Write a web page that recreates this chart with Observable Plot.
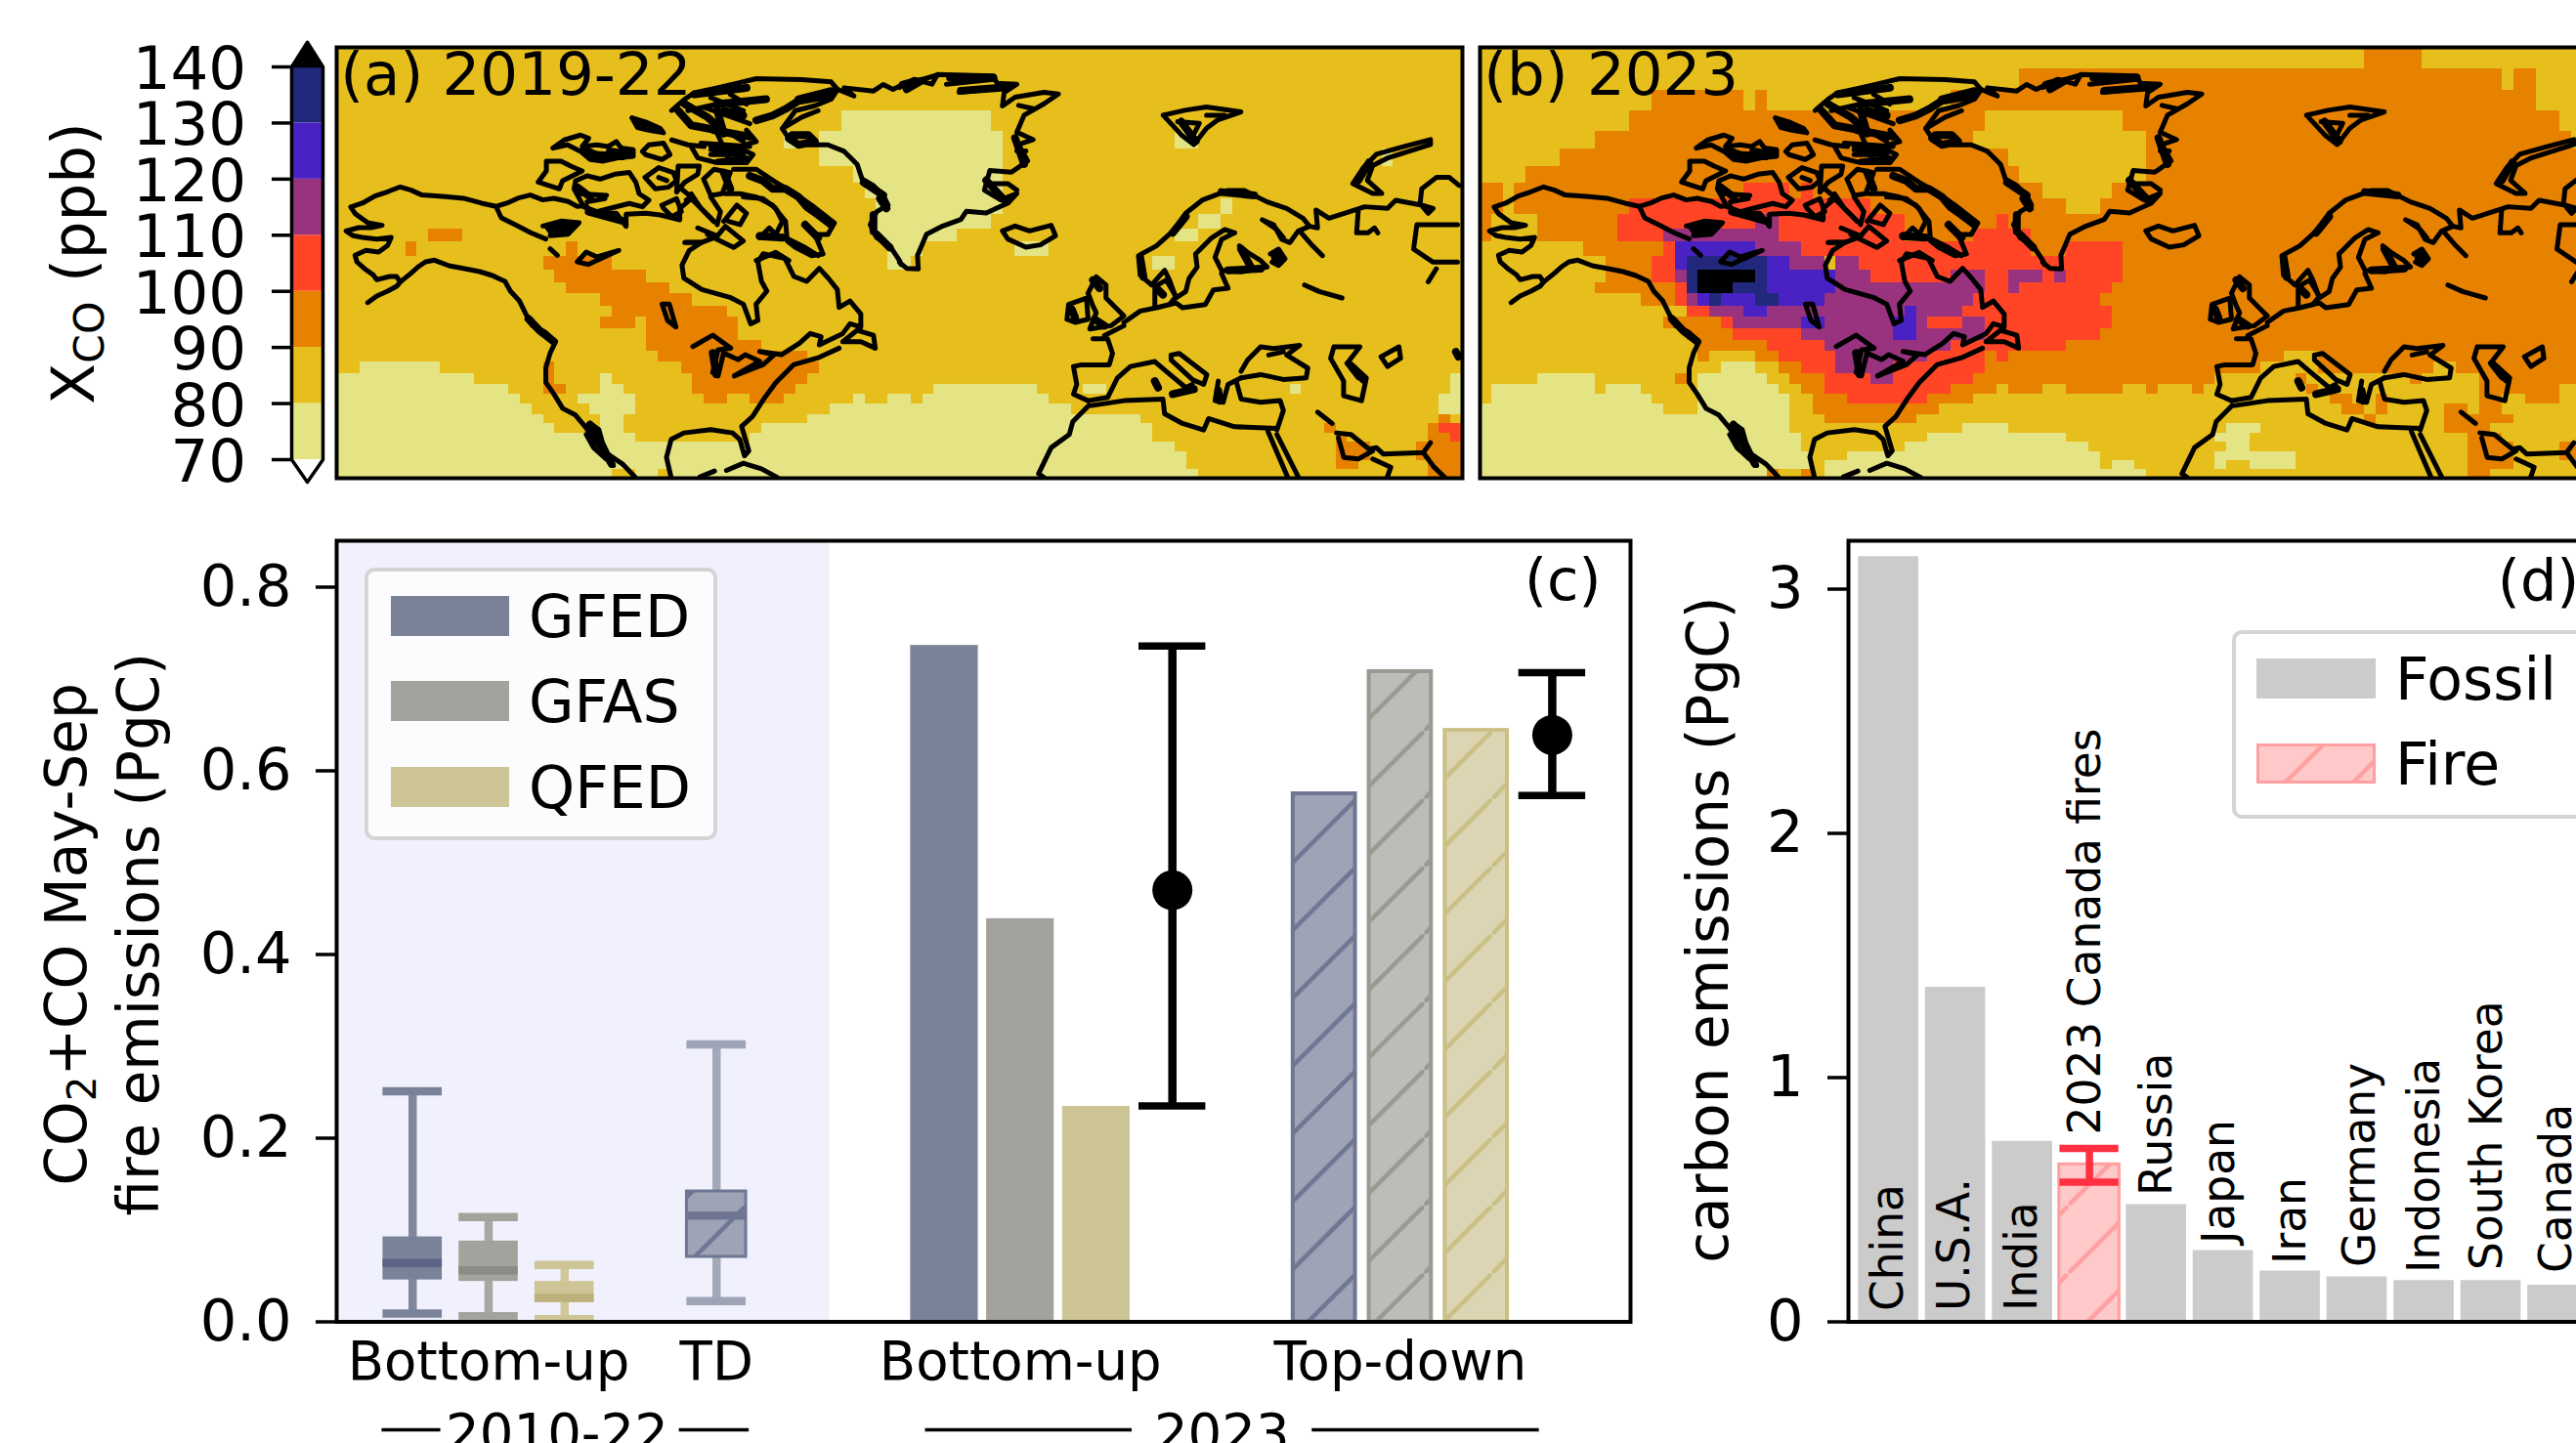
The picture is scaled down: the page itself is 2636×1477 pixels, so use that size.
<!DOCTYPE html>
<html><head><meta charset="utf-8">
<script src="https://cdn.jsdelivr.net/npm/d3@7"></script>
<script src="https://cdn.jsdelivr.net/npm/@observablehq/plot@0.6"></script>
<style>
html,body{margin:0;padding:0;background:#fff}
#page{position:relative;width:2636px;height:1477px;overflow:hidden;font-family:"DejaVu Sans";color:#000}
#page>svg{position:absolute;overflow:visible}
.legend{position:absolute;box-sizing:border-box;border:4px solid #d4d4d4;border-radius:10px;background:rgba(255,255,255,.8);font-size:60px;line-height:1}
.legend .row{position:absolute;display:flex;align-items:center}
.legend svg{display:block;flex:none}
</style></head><body><div id="page"></div>
<svg width="0" height="0" style="position:absolute"><defs id="defs"></defs></svg>
<script>
// ---------- colour classes (XCO, ppb) ----------
const cbEdges = [70,80,90,100,110,120,130,140];
const cbColors = ["#E5E485","#E6BF1C","#E78200","#FF4526","#99337F","#4A22C4","#22287C"];
const cbTicks = [70,80,90,100,110,120,130,140];
const overColor = "#000000";

// ---------- map grid: row edges and [row, firstColumn, endColumn] runs per class ----------
const rowEdges = [2,68,135,198,260,315,368,420,468,515,560,600,643,685,723,758,795,830,865,900,935,968,1003,1035,1065,1097,1128,1155,1185,1213,1243,1270,1297,1324];
const colUnit = 31.8;

const mapALight = [[21,2,9],[22,0,12],[22,23,24],[22,97,98],[23,0,15],[23,23,25],[23,52,61],[23,97,98],[24,0,16],[24,21,26],[24,45,46],[24,48,50],[24,51,62],[24,96,98],[25,0,17],[25,22,26],[25,43,64],[25,96,98],[26,0,18],[26,23,25],[26,41,70],[27,0,19],[27,23,25],[27,37,71],[28,0,26],[28,36,71],[29,0,73],[30,0,74],[31,0,74],[32,0,24],[32,26,28],[32,29,75],
[3,44,57],[4,39,40],[4,42,58],[5,42,58],[6,45,58],[7,46,58],[8,47,58],[9,47,57],[10,47,54],[11,48,51],[12,48,50],
[4,73,75],[11,59,62],[8,77,78],[9,75,77],[10,73,75],[12,71,73],[23,65,67],[23,83,84],[5,91,92]];
const mapAOrange = [[10,8,11],[11,6,7],[11,20,21],[12,18,24],[13,19,27],[14,20,29],[15,23,31],[16,24,34],[17,23,26],[17,27,35],[18,27,35],[19,27,37],[20,28,41],[21,30,42],[22,31,41],[23,31,40],[24,32,34],[24,36,39],[21,18,19],[22,18,19],[23,18,20],
[26,96,97],[27,95,96],[28,95,97],[29,94,98],[30,94,98],[31,95,98],[32,95,98],[27,86,87],[28,87,88],[29,87,90],[30,87,90],[31,87,89]];
const mapARed = [[27,96,98],[28,97,98]];

const mapBLight = [[21,21,24],[22,5,10],[22,19,25],[23,1,10],[23,11,14],[23,19,26],[24,1,15],[24,19,27],[25,0,16],[25,19,27],[26,0,27],[27,0,27],[27,42,46],[27,65,68],[28,0,28],[28,39,51],[28,64,67],[29,0,28],[29,37,53],[29,65,67],[30,0,29],[30,32,54],[30,64,71],[31,0,29],[31,30,54],[31,55,57],[31,64,65],[31,67,71],[32,0,25],[32,30,58]];
const mapBOrange = [[0,77,82],[1,47,89],[1,90,92],[2,15,23],[2,24,25],[2,41,92],[3,13,44],[3,56,94],[4,10,43],[4,58,95],[5,7,46],[5,58,100],[6,4,47],[6,58,100],[7,0,2],[7,3,23],[7,27,28],[7,29,49],[7,55,100],[8,0,2],[8,3,13],[8,34,51],[8,54,100],[9,0,1],[9,5,12],[9,37,45],[9,46,100],[10,0,1],[10,5,12],[10,37,43],[10,48,100],[11,9,16],[11,48,51],[11,56,100],[12,11,15],[12,56,100],[13,11,15],[13,56,100],[14,10,17],[14,55,100],[15,14,17],[15,54,100],[16,55,100],[17,16,21],[17,55,100],[18,18,22],[18,54,100],[19,19,25],[19,51,100],[20,19,20],[20,24,26],[20,44,45],[20,46,70],[20,73,100],[21,26,28],[21,44,68],[21,73,83],[21,85,100],[22,17,18],[22,27,30],[22,43,64],[22,71,72],[22,81,82],[22,87,100],[23,28,30],[23,41,45],[23,46,49],[23,51,56],[23,58,59],[23,62,63],[23,72,73],[23,87,94],[24,29,32],[24,39,43],[24,74,76],[24,78,79],[24,87,89],[24,91,94],[25,29,40],[25,75,77],[25,78,79],[25,84,86],[25,87,89],[26,30,38],[26,77,78],[26,84,90],[27,84,88],[28,86,89],[29,86,90],[29,94,100],[30,86,90],[30,94,100],[31,86,90],[32,25,26],[32,28,29],[32,86,88]];
const mapBRed = [[7,23,27],[7,28,29],[8,13,34],[9,12,24],[9,26,37],[9,45,46],[10,12,16],[10,26,37],[10,43,48],[11,16,17],[11,28,48],[11,51,56],[12,15,17],[12,33,56],[13,15,17],[13,34,41],[13,44,46],[13,49,50],[13,51,56],[14,17,18],[14,44,46],[14,47,55],[15,17,18],[15,43,54],[16,18,20],[16,42,55],[17,21,22],[17,39,42],[17,44,55],[18,22,28],[18,44,54],[19,25,30],[19,41,51],[20,26,31],[20,39,44],[20,45,46],[21,28,31],[21,36,44],[22,30,34],[22,36,43],[23,30,41],[24,32,39]];
const mapBPurple = [[9,24,26],[10,16,26],[11,24,28],[12,27,30],[12,31,33],[13,17,18],[13,31,34],[13,41,44],[13,46,49],[13,50,51],[14,31,44],[14,46,47],[15,18,19],[15,30,43],[16,20,23],[16,25,37],[16,38,42],[17,22,28],[17,30,36],[17,38,39],[17,42,44],[18,28,36],[18,38,44],[19,30,41],[20,31,39],[21,31,36],[22,34,36]];
const mapBBlue = [[11,17,24],[12,17,18],[12,25,27],[13,25,31],[14,25,31],[15,19,20],[15,21,24],[15,26,30],[16,23,25],[16,37,38],[17,28,30],[17,36,38],[18,36,38]];
const mapBNavy = [[12,18,25],[13,18,19],[13,24,25],[14,18,19],[14,22,25],[15,20,21],[15,24,26]];
const mapBBlack = [[13,19,24],[14,19,22]];

// ---------- coastlines, traced in map units ----------
const coastWest = [
 [[85,785],[110,765],[140,750],[165,735],[175,722],[205,695],[225,675],[245,660],[270,655],[310,672],[350,680],[395,690],[430,702],[465,720],[480,750],[505,780],[525,825],[540,855],[575,875],[605,905],[590,940],[578,985],[578,1030],[600,1065],[625,1110],[660,1130],[690,1170],[715,1215],[750,1250],[790,1280],[825,1320]],
 [[700,1155],[725,1175],[735,1215],[765,1285]],[[690,1190],[710,1230],[745,1265]],
 [[925,1322],[912,1260],[925,1205],[960,1185],[1035,1175],[1095,1185],[1115,1205],[1128,1255],[1140,1240],[1120,1165],[1150,1135],[1185,1075],[1215,1030],[1265,975],[1330,955],[1390,925]],
 [[1100,1010],[1180,975],[1210,945],[1170,935],[1230,945],[1280,910],[1310,880],[1340,890],[1335,915],[1400,880],[1420,850],[1450,860],[1450,820],[1420,780],[1390,800],[1385,745],[1360,710],[1335,680],[1300,720],[1265,705],[1240,650],[1180,635],[1165,660],[1175,720],[1190,750],[1160,790],[1165,840],[1145,850],[1125,790],[1090,770],[1010,745],[960,710],[955,670],[975,625],[1010,600],[965,600]],
 [[690,488],[665,490],[640,475],[600,465],[570,470],[535,455],[500,465],[470,480],[440,490],[400,480],[350,465],[300,460],[235,455],[205,440],[175,430],[140,445],[105,458],[70,480],[38,492],[50,512],[85,540],[125,548],[95,555],[60,555],[25,565],[45,580],[70,585],[110,590],[150,585],[140,610],[115,630],[80,625],[50,640],[55,660],[75,680],[100,700],[110,715],[145,705],[165,705],[175,722]],
 [[440,490],[455,525],[500,550],[535,570],[578,590]],
 [[590,620],[610,640]],[[665,660],[690,630],[720,645],[780,625],[730,650],[695,668],[665,660]],
 [[900,790],[920,790],[938,860],[915,840],[900,790]],
 [[985,920],[1040,885],[1090,925],[1055,930],[1040,1000],[1055,1010],[1070,940],[1110,960],[1130,945],[1170,965],[1100,1010]],
 [[1400,905],[1440,870],[1485,885],[1490,925],[1450,905],[1400,905]],
 [[1005,1320],[1045,1302]],[[1078,1300],[1125,1278],[1175,1295],[1220,1322]]
];
const coastEast = [
 [[0,125],[40,100],[90,115],[105,85],[260,90],[270,112],[325,115],[290,140],[285,182],[320,155],[400,140],[440,145],[400,175],[345,210],[325,262],[370,285],[330,300],[355,350],[310,385],[250,380],[235,440],[280,470],[325,450],[300,480],[240,510],[185,505],[170,530],[120,550],[75,575],[50,640],[52,682],[20,680],[0,662]],
 [[130,115],[260,100]],[[165,140],[300,125]],[[330,180],[370,190]],[[325,320],[350,320]],[[240,420],[300,420],[325,440]],
 [[285,565],[320,550],[360,565],[420,548],[432,580],[390,608],[350,615],[300,590],[285,565]],
 [[730,210],[790,195],[850,185],[945,200],[880,225],[850,250],[815,300],[780,270],[730,210]],[[770,230],[830,235],[810,280]],[[850,210],[900,210]],
 [[1470,285],[1400,305],[1320,330],[1285,370],[1255,420],[1310,450],[1335,450],[1295,410],[1310,365],[1350,342],[1470,300],[1470,285]],
 [[525,1100],[480,1150],[470,1190],[420,1230],[385,1310],[400,1322]],
 [[1020,1180],[1075,1322]],[[1045,1190],[1105,1322]],
 [[1210,1185],[1250,1190],[1300,1235],[1320,1230],[1340,1250],[1450,1245],[1470,1215]],[[1215,1200],[1230,1260],[1270,1265],[1310,1240]],[[1310,1265],[1360,1290],[1350,1322]],[[1450,1245],[1480,1290],[1510,1322]]
];
// stretches where the dense coastline reads as a heavy black band
const heavyWest = [[[530,835],[560,870],[600,905]],[[700,1160],[760,1280]],[[1040,940],[1050,1005]]];
const heavyEast = [[[320,280],[345,360]],[[240,410],[290,470]],[[20,130],[60,105]],[[140,95],[260,95]],[[170,135],[290,125]],[[780,230],[820,290]],[[1300,355],[1270,410]]];
const lakesWest = [[[570,550],[620,535],[670,540],[640,575],[590,580]]];
// Arctic and Europe traced at a finer grain; map x = origin + 0.901 * x, map y = origin + y
const arcticOrigin = [584,66], europeOrigin = [1908,396], traceScale = 0.901;
const arcticLines = [
 [[258,152],[300,165],[345,185],[355,198],[310,190],[275,182],[258,152]],[[280,170],[330,180]],
 [[15,245],[50,220],[100,205],[125,215],[105,240],[150,235],[185,240],[210,225],[225,245],[262,250],[262,270],[215,275],[170,285],[130,280],[100,255],[60,235],[15,245]],
 [[-5,285],[40,285],[70,300],[105,315],[75,330],[45,345],[35,370],[-30,349],[-5,315],[-5,285]],
 [[85,345],[120,330],[160,340],[205,325],[250,320],[270,350],[280,385],[310,405],[290,425],[250,415],[190,430],[150,440],[110,425],[80,370],[85,345]],[[95,385],[180,390]],[[120,410],[175,400]],
 [[118,422],[130,445],[210,445],[240,485],[240,448],[300,445],[345,450],[405,465],[405,430],[440,400],[470,430],[510,470]],
 [[298,335],[340,305],[385,320],[395,345],[370,365],[330,370],[298,335]],[[340,335],[365,345]],
 [[400,300],[465,300],[460,325],[420,350],[395,380],[400,300]],
 [[478,340],[510,310],[560,320],[535,385],[500,390],[478,340]],
 [[570,310],[640,310],[700,350],[760,385],[810,420],[880,475],[860,510],[820,510],[845,570],[810,575],[760,550],[735,530],[730,470],[690,420],[640,395],[590,385],[545,385]],
 [[290,255],[310,235],[355,230],[375,265],[350,280],[300,265],[290,255]],[[380,220],[430,235],[480,240]],
 [[440,240],[460,275],[520,290],[610,290],[630,265],[590,245],[500,240]],[[500,265],[600,265]],[[520,285],[610,275]],
 [[380,130],[420,95],[450,75],[520,60],[585,45],[640,32],[780,35],[870,42],[890,65],[870,95],[820,115],[760,130],[720,185],[740,215]],
 [[590,240],[640,225],[610,190]],
 [[890,65],[940,85],[910,60],[1000,70],[1030,50],[1060,65],[1090,50],[1130,40],[1200,20]],
 [[720,185],[780,150],[830,130]],
 [[800,235],[860,235],[910,255],[950,295],[965,340],[1000,360],[1030,390],[1045,420],[1010,440],[990,480],[1010,520],[1050,545],[1080,590],[1085,602]],
 [[460,490],[520,515],[545,485],[600,530],[570,550],[530,530],[490,510]],[[420,535],[470,535],[510,520]],
 [[540,470],[580,420],[610,445],[590,480],[555,470]],[[500,395],[530,440],[520,480]],[[440,385],[470,430],[510,470]],
 [[350,420],[395,400],[410,440],[380,455],[355,430],[350,420]],[[410,370],[440,395],[425,405]],
 [[600,395],[660,400],[700,430],[720,470],[700,510],[680,490],[650,520]],[[650,510],[720,515],[790,550],[830,575]],
 [[640,590],[700,565],[740,590]],
 [[500,90],[600,130]],[[480,120],[620,170]],[[510,170],[600,225]],[[470,230],[620,240]],[[500,250],[610,255]],[[520,200],[560,290]],[[430,130],[520,110]],[[560,80],[610,110]]
];
const arcticHeavy = [
 [[110,250],[170,275]],[[190,255],[250,265]],[[540,320],[560,370]],[[620,330],[660,345],[690,370],[730,370],[770,395],[795,425],[830,450],[870,480]],[[790,480],[830,520]],[[650,515],[720,520]],
 [[420,110],[490,150],[530,185]],[[450,80],[610,60]],[[520,110],[670,95]],[[400,130],[440,175],[520,190]],[[510,190],[620,210]],[[540,130],[600,145]],[[640,160],[690,145],[730,125],[770,100],[860,85]],[[770,95],[870,70]],[[520,130],[540,200]],
 [[740,215],[770,235],[820,225],[800,205],[750,205]],[[970,350],[1030,390]],[[1020,400],[1040,430]],[[1000,450],[1000,500]],[[1010,510],[1050,550]],[[1090,50],[1130,40]],
 [[90,365],[130,395]],[[125,440],[235,470]],[[130,265],[230,270]]
];
const europeLines = [
 [[385,335],[350,305],[345,245],[400,215],[450,170],[490,115],[540,75],[620,45],[670,45],[740,80],[800,100],[850,130],[870,155],[835,170],[810,205],[785,195],[760,150],[725,135],[770,165],[790,190]],
 [[845,175],[875,210],[910,245]],
 [[870,155],[895,160],[890,105],[930,130],[1010,105],[1040,95],[1110,100],[1135,75],[1215,90],[1250,100],[1235,115],[1210,85],[1215,40],[1260,5],[1300,5],[1330,30]],
 [[1020,105],[1015,175],[1050,175],[1070,160],[1080,175]],
 [[640,175],[610,165],[570,190],[520,240],[525,280],[500,315],[490,355],[460,375],[440,320],[425,290],[385,335]],
 [[640,175],[600,195],[580,250],[600,290],[660,295],[740,280],[720,260],[680,235],[655,215]],
 [[395,400],[395,340],[430,320],[460,370],[440,395]],
 [[300,450],[350,415],[400,405],[460,390],[480,405],[550,395],[575,350],[620,345],[600,300]],
 [[125,440],[130,395],[185,375],[190,440],[150,450],[125,440]],
 [[190,360],[215,310],[245,335],[245,375],[280,410],[300,430],[260,460],[195,470],[215,420],[205,400],[190,360]],
 [[205,500],[250,500],[265,545],[255,580],[170,580],[145,585],[155,640],[145,670],[190,690]],[[240,490],[300,460]],
 [[190,690],[250,680],[280,620],[320,585],[395,570],[430,600],[490,650],[510,640]],
 [[445,550],[470,545],[555,610],[545,640],[510,625],[445,565],[445,550]],
 [[590,630],[580,690],[605,695],[620,640],[660,620]],
 [[660,620],[720,610],[790,625],[860,620],[865,590],[800,550],[840,520],[760,530],[720,525],[680,565],[660,600]],[[745,550],[790,540]],
 [[645,630],[660,685],[720,695],[780,690],[790,720],[770,780]],
 [[200,705],[300,690],[420,685],[425,730],[480,760],[545,780],[560,745],[640,770],[770,775]],
 [[945,525],[1025,525],[990,570],[1045,620],[1030,690],[975,675],[975,630],[935,560],[945,525]],[[985,575],[1020,620]],
 [[1090,555],[1145,525],[1150,560],[1110,585],[1090,555]],
 [[855,335],[900,355],[970,375]],
 [[1325,150],[1200,150],[1190,225],[1250,265],[1325,265]],[[1260,285],[1235,325]],[[895,725],[940,760]]
];
const europeHeavy = [
 [[350,250],[360,310]],[[450,175],[490,125]],[[600,50],[700,60]],[[660,225],[690,280]],[[620,290],[720,285]],[[405,350],[420,365]],[[205,320],[225,345]],[[140,410],[150,435]],[[210,440],[240,460]],[[395,630],[405,650]],[[450,670],[515,655]],[[590,660],[595,690]],[[1320,540],[1328,555]],[[1005,590],[1035,625]]
];
const europeLakes = [[[750,240],[775,225],[795,255],[775,275],[755,265]]];
const eastOffset = 1557;
const mapWidthUnits = 3116.4;

// ---------- panel (c) ----------
const sources = ["GFED","GFAS","QFED"];
const srcFill = ["#7A8299","#A3A39E","#CEC597"];
const srcMedian = ["#5A6484","#8C8C87","#BCB17A"];
const hatchFill = ["#9EA4B5","#BCBCB9","#DCD5B3"];
const hatchLine = ["#6E7693","#999994","#CABF85"];

const boxX    = [1,2,3,5];
const boxHigh = [0.251,0.114,0.062,0.302];
const boxLow  = [0.009,0.006,0.003,0.0225];
const boxQ3   = [0.0925,0.088,0.044,0.142];
const boxQ1   = [0.0456,0.044,0.021,0.0707];
const boxMed  = [0.064,0.056,0.026,0.1157];
const bottomUpX = [8,9,10];
const bottomUp23 = [0.7365,0.439,0.2346];
const topDownX = [13,14,15];
const topDown23 = [0.575,0.708,0.644];
const errX = [11,16], errHigh = [0.736,0.707], errLow = [0.235,0.573], errMid = [0.47,0.639];
const cTicks = [0,0.2,0.4,0.6,0.8];
const cGroupTicks = [2,5,9,14];
const cGroupLabels = ["Bottom-up","TD","Bottom-up","Top-down"];
const periodLabels = ["2010-22","2023"], periodX = [2.9,11.65];
const periodLineStart = [0.597,4.51,7.75,12.84], periodLineEnd = [1.371,5.43,10.47,15.83];

// ---------- panel (d) ----------
const countries = ["China","U.S.A.","India","2023 Canada fires","Russia","Japan","Iran","Germany","Indonesia","South Korea","Canada"];
const emissions = [3.133,1.37,0.739,0.645,0.48,0.292,0.208,0.184,0.169,0.169,0.15];
const labelBase = [0.044,0.044,0.044,0.766,0.516,0.32,0.236,0.224,0.2,0.212,0.2];
const labelShift = [0,-0.01,0,-0.06,0.01,-0.05,0.01,0.05,0.01,-0.05,-0.02];
const fireIndex = 3, fireLow = 0.572, fireHigh = 0.71;
const dTicks = [0,1,2,3];

// ---------- helpers ----------
const FONT = "DejaVu Sans", FS = 59, FS_MAP = 61, FS_X = 54.5;
const page = document.getElementById("page");
const place = (svg,left,top)=>{svg.style.left=left+"px";svg.style.top=top+"px";page.appendChild(svg);return svg;};
const ns = "http://www.w3.org/2000/svg";
const defs = document.getElementById("defs");
function hatch(id,bg,line){
  const s=69.4, w=4.4;
  defs.insertAdjacentHTML("beforeend",`<pattern id="${id}" patternUnits="userSpaceOnUse" width="${s}" height="${s}">
  <rect width="${s}" height="${s}" fill="${bg}"/>
  <path d="M-2,${s+2}L${s+2},-2" stroke="${line}" stroke-width="${w}" fill="none"/></pattern>`);
}
sources.forEach((s,i)=>hatch("hatch"+s,hatchFill[i],hatchLine[i]));
hatch("hatchFire","#FFC9C9","#FF9FA0");
function subscript(svg,whole,parts,fs){
  d3.select(svg).selectAll("text").filter(function(){return this.textContent===whole;}).each(function(){
    this.textContent="";
    let pending=0;
    parts.forEach(([t,sub])=>{
      const ts=document.createElementNS(ns,"tspan");
      ts.textContent=t;
      if(sub){ts.setAttribute("font-size",fs*0.7);ts.setAttribute("dy",fs*0.17);pending=-fs*0.17;}
      else if(pending){ts.setAttribute("dy",pending);pending=0;}
      this.appendChild(ts);
    });
  });
}

// ---------- colour bar ----------
const cbBands = cbColors.map((c,i)=>({a:cbEdges[i],b:cbEdges[i+1],c}));
const cbOutlineX=[0,0,0.5,1,1,0.5,0], cbOutlineY=[70,140,144.4,140,70,66,70];
const cbOverX=[0,0.5,1,0], cbOverY=[140,144.4,140,140];
const cbar = Plot.plot({
  width:344,height:520,marginLeft:298,marginRight:14,marginTop:68,marginBottom:50,
  style:{fontFamily:FONT,background:"transparent",overflow:"visible"},
  x:{domain:[0,1],axis:null},
  y:{domain:[70,140],axis:null},
  marks:[
    Plot.rect(cbBands,{x1:0,x2:1,y1:"a",y2:"b",fill:"c"}),
    Plot.line(cbOverX.map((x,i)=>[x,cbOverY[i]]),{x:"0",y:"1",fill:overColor,stroke:overColor}),
    Plot.line(cbOutlineX.map((x,i)=>[x,cbOutlineY[i]]),{x:"0",y:"1",stroke:"#000",strokeWidth:3.5}),
    Plot.axisY({ticks:cbTicks,tickSize:20,tickFormat:()=>"",stroke:"#000",strokeWidth:3.5,label:null,anchor:"left"}),
    Plot.text(cbTicks,{x:-1.45,y:d=>d,text:d=>String(d),dy:3,textAnchor:"end",fontSize:FS_MAP}),
    Plot.text(["Xco (ppb)"],{x:-6.94,y:105,text:d=>d,rotate:-90,fontSize:FS_MAP})
  ]
});
subscript(cbar,"Xco (ppb)",[["X",0],["CO",1],[" (ppb)",0]],FS_MAP);
place(cbar,0,0);

// ---------- maps ----------
const classTable=(runs)=>runs.flatMap(([list,k])=>list.map(([r,c1,c2])=>({r,c1,c2,k})));
const rows=(lines,tag,fx,fy)=>lines.flatMap((pts,i)=>pts.map(([x,y])=>({x:fx(x),y:fy(y),id:tag+i})));
const plain=v=>v, east=v=>v+eastOffset;
const arcX=v=>arcticOrigin[0]+traceScale*v, arcY=v=>arcticOrigin[1]+v;
const eurX=v=>europeOrigin[0]+traceScale*v, eurY=v=>europeOrigin[1]+v;
const coastTable=[...rows(coastWest,"w",plain,plain),...rows(coastEast,"e",east,plain),...rows(arcticLines,"a",arcX,arcY),...rows(europeLines,"u",eurX,eurY)];
const heavyTable=[...rows(heavyWest,"w",plain,plain),...rows(heavyEast,"e",east,plain),...rows(arcticHeavy,"a",arcX,arcY),...rows(europeHeavy,"u",eurX,eurY)];
const lakeTable=[...rows(lakesWest,"w",plain,plain),...rows(europeLakes,"u",eurX,eurY)];
function map(runs,title,left){
  const cells=classTable(runs);
  const p=Plot.plot({
    width:1152,height:441,margin:0,
    style:{fontFamily:FONT,background:"transparent",overflow:"visible"},
    x:{domain:[-1,mapWidthUnits-1],axis:null},
    y:{domain:[2,1324],axis:null,reverse:true},
    color:{type:"ordinal",domain:[1,2,3,4,5,6,7,8],range:[...cbColors,overColor]},
    marks:[
      Plot.rect(cells,{x1:d=>d.c1*colUnit-1,x2:d=>d.c2*colUnit-1,y1:d=>rowEdges[d.r],y2:d=>rowEdges[d.r+1],fill:"k",clip:true,shapeRendering:"crispEdges"}),
      Plot.line(coastTable,{x:"x",y:"y",z:"id",stroke:"#000",strokeWidth:5,clip:true,curve:"linear",strokeLinejoin:"round",strokeLinecap:"round"}),
      Plot.line(heavyTable,{x:"x",y:"y",z:"id",stroke:"#000",strokeWidth:8,clip:true,strokeLinecap:"round"}),
      Plot.line(lakeTable,{x:"x",y:"y",z:"id",stroke:"#000",fill:"#000",strokeWidth:5,clip:true}),
      Plot.text([title],{x:9,y:90,text:d=>d,textAnchor:"start",fontSize:FS_MAP}),
      Plot.frame({stroke:"#000",strokeWidth:4})
    ]
  });
  return place(p,left,48);
}
const allRows=rowEdges.slice(0,-1).map((_,r)=>[r,0,100]);
map([[allRows,2],[mapALight,1],[mapAOrange,3],[mapARed,4]],"(a) 2019-22",344);
map([[allRows,2],[mapBLight,1],[mapBOrange,3],[mapBRed,4],[mapBPurple,5],[mapBBlue,6],[mapBNavy,7],[mapBBlack,8]],"(b) 2023",1514);

// ---------- panel (c) ----------
const boxes=boxX.map((x,i)=>({x,hi:boxHigh[i],lo:boxLow[i],q3:boxQ3[i],q1:boxQ1[i],m:boxMed[i],s:i<3?i:0,td:i===3}));
const barsBU=bottomUpX.map((x,i)=>({x,v:bottomUp23[i],s:i}));
const barsTD=topDownX.map((x,i)=>({x,v:topDown23[i],s:i}));
const errs=errX.map((x,i)=>({x,hi:errHigh[i],lo:errLow[i],m:errMid[i]}));
const capH=0.39, boxH=0.39;
const pc=Plot.plot({
  width:1680,height:937,marginLeft:344,marginRight:12,marginTop:13,marginBottom:124.5,
  style:{fontFamily:FONT,background:"transparent",overflow:"visible"},
  x:{domain:[0,17.03],axis:null},
  y:{domain:[0,0.8505],axis:null},
  marks:[
    Plot.rect([0],{x1:0,x2:6.49,y1:0,y2:0.8505,fill:"#F1F1FD"}),
    Plot.ruleX(boxes,{x:"x",y1:"lo",y2:"hi",stroke:d=>d.td?hatchFill[0]:srcFill[d.s],strokeWidth:8.5,strokeOpacity:0.95}),
    Plot.ruleY(boxes,{y:"hi",x1:d=>d.x-capH,x2:d=>d.x+capH,stroke:d=>d.td?hatchFill[0]:srcFill[d.s],strokeWidth:8.5}),
    Plot.ruleY(boxes,{y:"lo",x1:d=>d.x-capH,x2:d=>d.x+capH,stroke:d=>d.td?hatchFill[0]:srcFill[d.s],strokeWidth:8.5}),
    Plot.rect(boxes,{x1:d=>d.x-boxH,x2:d=>d.x+boxH,y1:"q1",y2:"q3",fill:d=>d.td?"url(#hatchGFED)":srcFill[d.s],stroke:d=>d.td?hatchLine[0]:"none",strokeWidth:3}),
    Plot.ruleY(boxes,{y:"m",x1:d=>d.x-boxH,x2:d=>d.x+boxH,stroke:d=>d.td?hatchLine[0]:srcMedian[d.s],strokeWidth:8.5}),
    Plot.rect(barsBU,{x1:d=>d.x-0.445,x2:d=>d.x+0.445,y1:0,y2:"v",fill:d=>srcFill[d.s]}),
    Plot.rect(barsTD,{x1:d=>d.x-0.41,x2:d=>d.x+0.41,y1:0,y2:"v",fill:d=>"url(#hatch"+sources[d.s]+")",stroke:d=>hatchLine[d.s],strokeWidth:4}),
    Plot.ruleX(errs,{x:"x",y1:"lo",y2:"hi",stroke:"#000",strokeWidth:8.5}),
    Plot.ruleY(errs,{y:"hi",x1:d=>d.x-0.44,x2:d=>d.x+0.44,stroke:"#000",strokeWidth:7.5}),
    Plot.ruleY(errs,{y:"lo",x1:d=>d.x-0.44,x2:d=>d.x+0.44,stroke:"#000",strokeWidth:7.5}),
    Plot.dot(errs,{x:"x",y:"m",r:20.5,fill:"#000"}),
    Plot.frame({stroke:"#000",strokeWidth:4}),
    Plot.axisY({ticks:cTicks,tickSize:21,tickPadding:25,fontSize:FS,stroke:"#000",strokeWidth:3.5,label:null,tickFormat:d3.format(".1f")}),
    Plot.axisX({ticks:cGroupTicks,tickFormat:d=>cGroupLabels[cGroupTicks.indexOf(d)],tickSize:0,tickPadding:20,fontSize:FS_X,label:null}),
    Plot.text(["(c)"],{x:16.14,y:0.806,text:d=>d,fontSize:FS}),
    Plot.text(["CO2+CO May-Sep"],{x:-3.54,y:0.422,text:d=>d,rotate:-90,fontSize:58}),
    Plot.text(["fire emissions (PgC)"],{x:-2.58,y:0.422,text:d=>d,rotate:-90,fontSize:58}),
    Plot.ruleY(periodLineStart.map((a,i)=>({a,b:periodLineEnd[i]})),{y:-0.1176,x1:"a",x2:"b",stroke:"#000",strokeWidth:3.5}),
    Plot.text(periodLabels.map((t,i)=>({t,x:periodX[i]})),{x:"x",y:-0.1176,text:"t",dy:5,fontSize:FS_X})
  ]
});
subscript(pc,"CO2+CO May-Sep",[["CO",0],["2",1],["+CO May-Sep",0]],58);
place(pc,0,540);

// ---------- panel (d) ----------
const dBars=countries.map((n,i)=>({i,n,v:emissions[i],base:labelBase[i],sh:labelShift[i],fire:i===fireIndex}));
const pd=Plot.plot({
  width:1054,height:937,marginLeft:191,marginRight:0,marginTop:13,marginBottom:124.5,
  style:{fontFamily:FONT,background:"transparent",overflow:"visible"},
  x:{domain:[-0.6,12],axis:null},
  y:{domain:[0,3.198],axis:null},
  marks:[
    Plot.rect(dBars,{x1:d=>d.i-0.45,x2:d=>d.i+0.45,y1:0,y2:"v",fill:d=>d.fire?"url(#hatchFire)":"#CBCBCB",stroke:d=>d.fire?"#FF9FA0":"none",strokeWidth:3}),
    Plot.ruleX([fireIndex],{x:d=>d,y1:fireLow,y2:fireHigh,stroke:"#FF3040",strokeWidth:7.5}),
    Plot.ruleY([fireLow,fireHigh],{y:d=>d,x1:fireIndex-0.44,x2:fireIndex+0.44,stroke:"#FF3040",strokeWidth:7.5}),
    Plot.frame({stroke:"#000",strokeWidth:4}),
    Plot.axisY({ticks:dTicks,tickSize:21,tickPadding:25,fontSize:FS,stroke:"#000",strokeWidth:3.5,label:null,tickFormat:d3.format("d")}),
    Plot.text(dBars,{x:d=>d.i+d.sh,y:"base",text:"n",rotate:-90,textAnchor:"start",lineAnchor:"middle",fontSize:45.5}),
    Plot.text(["(d)"],{x:9.1,y:3.026,text:d=>d,textAnchor:"start",fontSize:FS}),
    Plot.text(["carbon emissions (PgC)"],{x:-2.68,y:1.605,text:d=>d,rotate:-90,fontSize:58})
  ]
});
place(pd,1700,540);

// ---------- legends ----------
function legend(left,top,width,height,rows){
  const box=document.createElement("div");box.className="legend";
  Object.assign(box.style,{left:left+"px",top:top+"px",width:width+"px",height:height+"px"});
  rows.forEach(r=>{
    const row=document.createElement("div");row.className="row";
    row.style.left=(r.x-left-4)+"px";row.style.top=(r.y-top-4)+"px";row.style.height=r.h+"px";
    row.innerHTML=`<svg width="${r.w}" height="${r.h}"><rect x="${r.inset||0}" y="${r.inset||0}" width="${r.w-2*(r.inset||0)}" height="${r.h-2*(r.inset||0)}" fill="${r.fill}" ${r.stroke?`stroke="${r.stroke}" stroke-width="3"`:""}/></svg><span style="margin-left:${r.gap}px">${r.t}</span>`;
    box.appendChild(row);
  });
  page.appendChild(box);
}
legend(373,581,361,279,sources.map((t,i)=>({t,x:400,y:[610,697,785][i],w:121,h:41,fill:srcFill[i],gap:20})));
legend(2284,645,420,193,[{t:"Fossil",x:2309,y:674,w:122,h:41,fill:"#CBCBCB",gap:20},{t:"Fire",x:2309,y:761,w:122,h:41,fill:"url(#hatchFire)",stroke:"#FF9FA0",inset:1.5,gap:20}]);
</script></body></html>
